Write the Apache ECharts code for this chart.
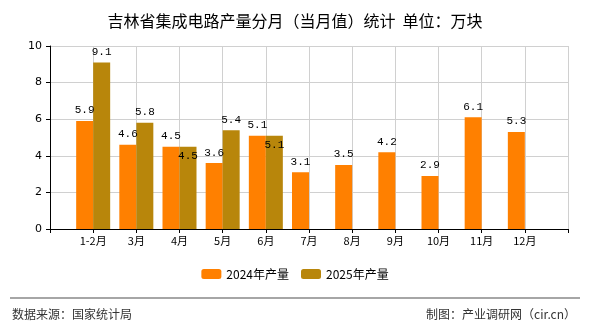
<!DOCTYPE html>
<html><head><meta charset="utf-8">
<script src="https://cdn.jsdelivr.net/npm/echarts@6/dist/echarts.min.js"></script>
<style>html,body{margin:0;padding:0;background:#fff}#c{width:590px;height:330px}</style>
</head><body><div id="c"></div>
<script>
const months = ['1-2月','3月','4月','5月','6月','7月','8月','9月','10月','11月','12月'];
const values2024 = [5.9,4.6,4.5,3.6,5.1,3.1,3.5,4.2,2.9,6.1,5.3];
const values2025 = [9.1,5.8,4.5,5.4,5.1];
const yTicks = [0,2,4,6,8,10];

const cats = [''].concat(months, ['']);
const s2024 = [null].concat(values2024, [null]);
const s2025 = [null].concat(values2025.map((v,i)=>{
  if (v === values2024[i]) return {value:v, label:{position:'insideTop', distance:4}};
  return v;
}), months.slice(values2025.length).map(()=>null), [null]);

const labelStyle = {show:true, position:'top', distance:5, color:'#000', fontFamily:'Liberation Mono, DejaVu Sans Mono, monospace', fontSize:11};
const chart = echarts.init(document.getElementById('c'), null, {renderer:'canvas'});
chart.setOption({
  animation:false,
  backgroundColor:'#fff',
  title:{text:'吉林省集成电路产量分月（当月值）统计  单位：万块', left:'center', top:8,
    textStyle:{fontSize:16, fontWeight:'normal', color:'#000', fontFamily:'Noto Sans CJK SC'}},
  grid:{left:50, right:22, top:46, bottom:101},
  legend:{bottom:45, left:'center', itemWidth:20, itemHeight:10, itemGap:12,
    textStyle:{fontSize:12, color:'#000', fontFamily:'Noto Sans CJK SC'},
    data:['2024年产量','2025年产量']},
  xAxis:{type:'category', data:cats, boundaryGap:false,
    axisLine:{lineStyle:{color:'#000'}},
    axisTick:{show:true, length:4, lineStyle:{color:'#000'}},
    axisLabel:{fontSize:11, color:'#000', margin:6, fontFamily:'Noto Sans CJK SC', interval:0},
    splitLine:{show:true, lineStyle:{color:'#d0d0d0'}}},
  yAxis:{type:'value', min:yTicks[0], max:yTicks[yTicks.length-1], interval:2,
    axisLine:{show:true, lineStyle:{color:'#000'}},
    axisTick:{show:true, length:4, lineStyle:{color:'#000'}},
    axisLabel:{fontSize:11, color:'#000', margin:8, fontFamily:'DejaVu Sans'},
    splitLine:{show:true, lineStyle:{color:'#d0d0d0'}}},
  series:[
    {name:'2024年产量', type:'bar', data:s2024, barWidth:17, barGap:'0%', itemStyle:{color:'#FF8000'}, label:labelStyle},
    {name:'2025年产量', type:'bar', data:s2025, barWidth:17, barGap:'0%', itemStyle:{color:'#B8860B'}, label:labelStyle}
  ],
  graphic:[
    {type:'line', shape:{x1:10, y1:298, x2:580, y2:298}, style:{stroke:'#888', lineWidth:1.5}},
    {type:'text', left:12, top:308, style:{text:'数据来源：国家统计局', fontSize:12, fill:'#333', fontFamily:'Noto Sans CJK SC'}},
    {type:'text', right:14, top:308, style:{text:'制图：产业调研网（cir.cn）', fontSize:12, fill:'#333', fontFamily:'Noto Sans CJK SC'}}
  ]
});
</script></body></html>
